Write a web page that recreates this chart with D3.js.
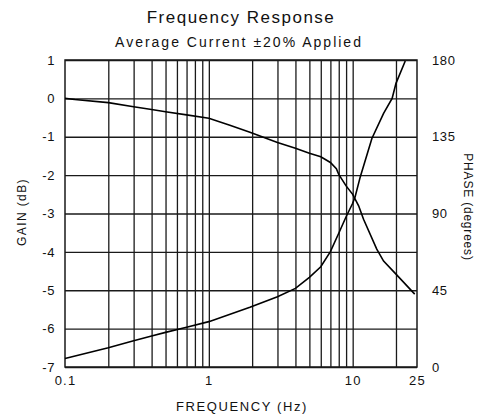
<!DOCTYPE html>
<html>
<head>
<meta charset="utf-8">
<script src="https://cdn.jsdelivr.net/npm/d3@7"></script>
<style>
  body { margin: 0; background: #fff; }
  svg { display: block; }
  text { font-family: "Liberation Sans", Arial, sans-serif; fill: #111; }
</style>
</head>
<body>
<svg id="chart"></svg>
<script>
// gain curve (dB) vs frequency (Hz)
const gainFreq = [0.1, 0.117, 0.2, 0.3, 0.4, 0.5, 0.7, 1, 1.4, 1.93, 3, 4, 5, 6, 7, 7.7, 8, 9, 10, 11, 11.9, 14.7, 16.4, 20, 27];
const gainDb   = [0, -0.03, -0.11, -0.22, -0.29, -0.35, -0.43, -0.52, -0.70, -0.88, -1.15, -1.30, -1.43, -1.52, -1.67, -1.83, -1.98, -2.28, -2.5, -2.8, -3.15, -3.93, -4.24, -4.58, -5.1];

// phase curve (degrees) vs frequency (Hz)
const phaseFreq = [0.1, 0.2, 0.3, 0.4, 0.5, 0.7, 1, 1.93, 3, 4, 5, 6, 7, 8, 9, 10, 10.4, 11.3, 13.6, 16.4, 18.8, 20, 23.2];
const phaseDeg  = [5, 11.3, 15.4, 18.2, 20.3, 23.3, 26.6, 35, 41.2, 46.1, 52.6, 58.8, 67.6, 78.4, 88.1, 96, 99.8, 111.6, 134, 148.7, 157.5, 166.3, 179.4];

// axes
const freqDomain = [0.1, 28];
const freqGrid = [0.2, 0.3, 0.4, 0.5, 0.6, 0.7, 0.8, 0.9, 1, 2, 3, 4, 5, 6, 7, 8, 9, 10, 20];
const freqTickVals = [0.1, 1, 10, 28];
const freqTickLabels = ["0.1", "1", "10", "25"];
const gainTicks = [1, 0, -1, -2, -3, -4, -5, -6, -7];
const phaseTicks = [0, 45, 90, 135, 180];

const width = 478, height = 417;
const margin = {top: 60, left: 65, right: 61, bottom: 50};
const innerW = width - margin.left - margin.right;
const innerH = height - margin.top - margin.bottom;

const svg = d3.select('#chart')
  .attr('width', width)
  .attr('height', height);

const x = d3.scaleLog().domain(freqDomain).range([0, innerW]);
const yGain = d3.scaleLinear().domain([-7, 1]).range([innerH, 0]);
const yPhase = d3.scaleLinear().domain([0, 180]).range([innerH, 0]);

const g = svg.append('g')
  .attr('transform', `translate(${margin.left},${margin.top})`);

// vertical grid
g.append('g')
  .attr('transform', `translate(0,${innerH})`)
  .call(d3.axisBottom(x).tickValues(freqGrid).tickSize(innerH).tickFormat(''))
  .call(a => a.select('.domain').remove())
  .call(a => a.selectAll('line').attr('transform', `translate(0,${-innerH})`)
    .attr('stroke', '#1a1a1a').attr('stroke-width', 1.3));

// horizontal grid + gain labels
g.append('g')
  .call(d3.axisLeft(yGain).tickValues(gainTicks).tickSize(-innerW).tickPadding(10)
    .tickFormat(d => d3.format('d')(d).replace('−', '-')))
  .call(a => a.select('.domain').remove())
  .call(a => a.selectAll('line').attr('stroke', '#1a1a1a').attr('stroke-width', 1.3))
  .call(a => a.selectAll('text').style('font-size', '13px').attr('fill', '#111')
    .style('letter-spacing', '0.6px')
    .style('font-family', '"Liberation Sans", Arial, sans-serif'));

// phase labels
g.append('g')
  .attr('transform', `translate(${innerW},0)`)
  .call(d3.axisRight(yPhase).tickValues(phaseTicks).tickSize(0).tickPadding(15))
  .call(a => a.select('.domain').remove())
  .call(a => a.selectAll('text').style('font-size', '13px').attr('fill', '#111')
    .style('letter-spacing', '0.6px')
    .style('font-family', '"Liberation Sans", Arial, sans-serif'));

// frequency labels
g.append('g')
  .attr('transform', `translate(0,${innerH})`)
  .call(d3.axisBottom(x).tickValues(freqTickVals).tickSize(0).tickPadding(9)
    .tickFormat((d, i) => freqTickLabels[i]))
  .call(a => a.select('.domain').remove())
  .call(a => a.selectAll('text').style('font-size', '13px').attr('fill', '#111')
    .style('letter-spacing', '1.2px')
    .style('font-family', '"Liberation Sans", Arial, sans-serif'));

// frame
g.append('rect')
  .attr('width', innerW).attr('height', innerH)
  .attr('fill', 'none').attr('stroke', '#1a1a1a').attr('stroke-width', 1.5);

// curves
const gainLine = d3.line()
  .x((d, i) => x(gainFreq[i]))
  .y(d => yGain(d));
const phaseLine = d3.line()
  .x((d, i) => x(phaseFreq[i]))
  .y(d => yPhase(d));

g.append('path')
  .attr('d', gainLine(gainDb))
  .attr('fill', 'none').attr('stroke', '#000').attr('stroke-width', 1.6);
g.append('path')
  .attr('d', phaseLine(phaseDeg))
  .attr('fill', 'none').attr('stroke', '#000').attr('stroke-width', 1.6);

// titles
svg.append('text')
  .attr('x', 241).attr('y', 23)
  .attr('text-anchor', 'middle')
  .style('font-size', '17px')
  .style('letter-spacing', '1.5px')
  .text('Frequency Response');

svg.append('text')
  .attr('x', 239).attr('y', 47)
  .attr('text-anchor', 'middle')
  .style('font-size', '14px')
  .style('letter-spacing', '2px')
  .text('Average Current ±20% Applied');

svg.append('text')
  .attr('x', 242).attr('y', 411)
  .attr('text-anchor', 'middle')
  .style('font-size', '13px')
  .style('letter-spacing', '1.6px')
  .text('FREQUENCY (Hz)');

svg.append('text')
  .attr('transform', 'translate(26,212) rotate(-90)')
  .attr('text-anchor', 'middle')
  .style('font-size', '12px')
  .style('letter-spacing', '1.4px')
  .text('GAIN (dB)');

svg.append('text')
  .attr('transform', 'translate(464,207) rotate(90)')
  .attr('text-anchor', 'middle')
  .style('font-size', '12px')
  .style('letter-spacing', '0.8px')
  .text('PHASE (degrees)');
</script>
</body>
</html>
